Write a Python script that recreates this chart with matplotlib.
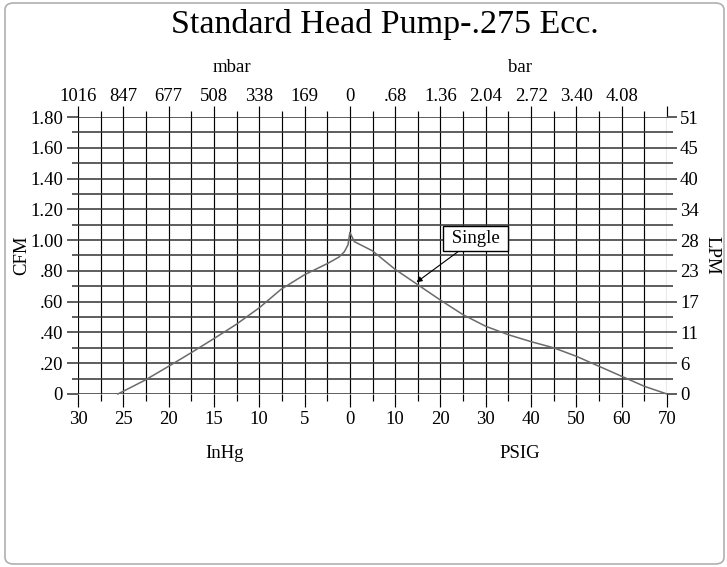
import matplotlib
matplotlib.use("Agg")
import matplotlib.pyplot as plt
from matplotlib.patches import FancyBboxPatch
import numpy as np

# ---------------- data ----------------
title = "Standard Head Pump-.275 Ecc."
vac_inhg = [25.6, 22.6, 20.0, 17.6, 15.0, 12.6, 10.0, 7.6, 5.0, 2.4, 1.2, 0.6, 0.2, 0.0]
vac_cfm = [0.0, 0.09, 0.18, 0.265, 0.36, 0.45, 0.56, 0.68, 0.775, 0.85, 0.89, 0.925, 0.97, 1.05]
press_psig = [0, 1, 3, 5, 10, 15, 20, 25, 30, 35, 40, 45, 50, 55, 60, 65, 70]
press_cfm = [1.05, 0.99, 0.96, 0.93, 0.81, 0.71, 0.61, 0.515, 0.44, 0.385, 0.34, 0.30, 0.245, 0.18, 0.115, 0.05, 0.0]

bottom_labels = ["30", "25", "20", "15", "10", "5", "0", "10", "20", "30", "40", "50", "60", "70"]
top_labels = ["1016", "847", "677", "508", "338", "169", "0", ".68", "1.36", "2.04", "2.72", "3.40", "4.08", ""]
cfm_ticks = [0, 0.2, 0.4, 0.6, 0.8, 1.0, 1.2, 1.4, 1.6, 1.8]
cfm_labels = ["0", ".20", ".40", ".60", ".80", "1.00", "1.20", "1.40", "1.60", "1.80"]
lpm_labels = ["0", "6", "11", "17", "23", "28", "34", "40", "45", "51"]
series_name = "Single"
arrow_tip_psig, arrow_tip_cfm = 14.7, 0.726

# ---------------- helpers ----------------
def pos_vac(v):
    return -np.asarray(v, dtype=float) / 5.0

def pos_press(p):
    return np.asarray(p, dtype=float) / 10.0

PT = 0.72  # points per pixel at dpi 100

plt.rcParams['font.family'] = ['Liberation Serif', 'DejaVu Serif']
W, H = 727, 567
fig = plt.figure(figsize=(W / 100, H / 100), dpi=100)

# border
border = FancyBboxPatch((5 / W, 3 / H), 719 / W, 561 / H,
                        boxstyle="round,pad=0,rounding_size=0.012",
                        transform=fig.transFigure, fc='none', ec='#b0b0b0', lw=1.2,
                        zorder=-1)
fig.patches.append(border)

left, right, bot, top = 78 / W, 667 / W, 1 - 394 / H, 1 - 117 / H
ax = fig.add_axes([left, bot, right - left, top - bot])
ax.set_facecolor('none')
ax.set_xlim(-6, 7)
ax.set_ylim(0, 1.8)
for s in ax.spines.values():
    s.set_visible(False)

major_x = np.arange(-6, 8, 1)
minor_x = np.arange(-5.5, 7, 1)
minor_y = np.arange(0.1, 1.8, 0.2)
ax.set_xticks(major_x)
ax.set_xticks(minor_x, minor=True)
ax.set_xticklabels(bottom_labels)
ax.set_yticks(cfm_ticks)
ax.set_yticks(minor_y, minor=True)
ax.set_yticklabels(cfm_labels)

vcol = 'black'
hcol = '#3a3a3a'
VLW = 0.85
HLW = 1.15
for x in major_x:
    ax.axvline(x, color=vcol, lw=VLW, zorder=1)
for x in minor_x:
    ax.axvline(x, color=vcol, lw=VLW, zorder=1)
for y in cfm_ticks:
    ax.axhline(y, color=hcol, lw=HLW, zorder=1)
for y in minor_y:
    ax.axhline(y, color=hcol, lw=HLW, zorder=1)

LS = 13.5
ax.tick_params(axis='x', which='major', direction='out', length=13 * PT, width=VLW,
               color=vcol, labelsize=LS, pad=4 * PT, top=False, labeltop=False)
ax.tick_params(axis='x', which='minor', direction='out', length=7 * PT, width=VLW,
               color=vcol, top=False)
ax.tick_params(axis='y', which='major', direction='out', length=11 * PT, width=HLW,
               color=hcol, labelsize=LS, pad=4 * PT)
ax.tick_params(axis='y', which='minor', direction='out', length=6 * PT, width=HLW,
               color=hcol)

# top axis labels
axt = ax.twiny()
axt.set_xlim(ax.get_xlim())
for s in axt.spines.values():
    s.set_visible(False)
axt.set_xticks(major_x)
axt.set_xticks(minor_x, minor=True)
axt.set_xticklabels(top_labels)
axt.tick_params(axis='x', which='major', direction='out', length=11 * PT, width=VLW,
                color=vcol, labelsize=LS, pad=1 * PT)
axt.tick_params(axis='x', which='minor', direction='out', length=6.5 * PT, width=VLW,
                color=vcol)

# right axis labels
axr = ax.twinx()
axr.set_ylim(ax.get_ylim())
for s in axr.spines.values():
    s.set_visible(False)
axr.set_yticks(cfm_ticks)
axr.set_yticklabels(lpm_labels)
axr.set_yticks(minor_y, minor=True)
axr.tick_params(axis='y', which='major', direction='out', length=10 * PT, width=HLW,
                color=hcol, labelsize=LS, pad=3 * PT)
axr.tick_params(axis='y', which='minor', direction='out', length=6 * PT, width=HLW,
                color=hcol)

# curve
xs = np.concatenate([pos_vac(vac_inhg), pos_press(press_psig)[1:]])
ys = np.concatenate([vac_cfm, press_cfm[1:]])
ax.plot(xs, ys, color='#6a6a6a', lw=1.1, zorder=3, clip_on=False)

# annotation
ax.annotate(" " + series_name + " ", xy=(arrow_tip_psig / 10, arrow_tip_cfm),
            xytext=(2.78, 1.01), textcoords='data', fontsize=LS,
            ha='center', va='center', zorder=5,
            bbox=dict(boxstyle='square,pad=0.2', fc='white', ec='black', lw=1.0),
            arrowprops=dict(arrowstyle='-|>', color='black', lw=0.8,
                            shrinkA=0, shrinkB=0, mutation_scale=8))

# texts
fig.text(385 / W, 1 - 25 / H, title, fontsize=24.5, ha='center', va='center')
fig.text(232 / W, 1 - 68 / H, "mbar", fontsize=LS, ha='center', va='center')
fig.text(520 / W, 1 - 68 / H, "bar", fontsize=LS, ha='center', va='center')
fig.text(225 / W, 1 - 453 / H, "InHg", fontsize=LS, ha='center', va='center')
fig.text(520 / W, 1 - 453 / H, "PSIG", fontsize=LS, ha='center', va='center')
fig.text(22 / W, 1 - 255 / H, "CFM", fontsize=LS, ha='center', va='center', rotation=90)
fig.text(712 / W, 1 - 255 / H, "LPM", fontsize=LS, ha='center', va='center', rotation=270)

fig.savefig("out.png", dpi=100, facecolor='white')
